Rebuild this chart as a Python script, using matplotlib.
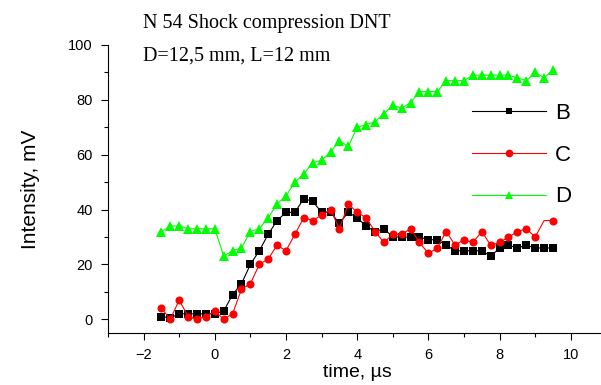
import matplotlib
matplotlib.use('Agg')
import matplotlib.pyplot as plt
from matplotlib.ticker import MultipleLocator
import numpy as np

# time axis, microseconds
time_us = [-1.5, -1.25, -1.0, -0.75, -0.5, -0.25, 0.0, 0.25, 0.5, 0.75,
           1.0, 1.25, 1.5, 1.75, 2.0, 2.25, 2.5, 2.75, 3.0, 3.25,
           3.5, 3.75, 4.0, 4.25, 4.5, 4.75, 5.0, 5.25, 5.5, 5.75,
           6.0, 6.25, 6.5, 6.75, 7.0, 7.25, 7.5, 7.75, 8.0, 8.25,
           8.5, 8.75, 9.0, 9.25, 9.5]

# signals, mV
sig_B = [1, 0.5, 2, 2, 2, 2, 2, 3, 9, 13,
         20, 25, 31, 36, 39, 39, 44, 43, 39, 39,
         35, 39, 37, 34, 32, 33, 30, 30, 30, 30,
         29, 29, 27, 25, 25, 25, 25, 23, 26, 27,
         26, 27, 26, 26, 26]
sig_C = [4, 0, 7, 1, 0, 1, 3, 0, 2, 11,
         13, 20, 22, 27, 25, 31, 37, 36, 38, 40,
         33, 42, 39, 37, 32, 28, 31, 31, 33, 28,
         24, 26, 32, 27, 29, 28, 32, 27, 28, 30,
         32, 33, 30, 36, 36]
sig_D = [32, 34, 34, 33, 33, 33, 33, 23, 25, 26,
         32, 33, 37, 42, 45, 50, 53, 57, 58, 61,
         65, 63, 70, 71, 72, 75, 78, 77, 79, 83,
         83, 83, 87, 87, 87, 89, 89, 89, 89, 89,
         88, 87, 90, 88, 91]

labels = ['B', 'C', 'D']
title1 = 'N 54 Shock compression DNT'
title2 = 'D=12,5 mm, L=12 mm'

plt.rcParams['font.family'] = ['Liberation Sans', 'DejaVu Sans']

W, H = 601, 385
fig = plt.figure(figsize=(W / 100, H / 100), dpi=100)
# axes box in pixels: left 108, bottom 333, top 45; x from -3 to 11
ax = fig.add_axes([108 / W, (H - 333) / H, 498.4 / W, 288 / H])

mk_c = [i for i in range(len(time_us)) if i != 43]
ax.plot(time_us, sig_B, color='black', lw=0.8, marker='s', ms=5.2,
        mew=0, label=labels[0])
ax.plot(time_us, sig_C, color='red', lw=0.8, marker='o', ms=5.8,
        mew=0, markevery=mk_c, label=labels[1])
ax.plot(time_us, sig_D, color='#00ff00', lw=0.8, marker='^', ms=6.5,
        mew=0, label=labels[2])

ax.set_xlim(-3, 11)
ax.set_ylim(-5, 100)
ax.xaxis.set_major_locator(MultipleLocator(2))
ax.xaxis.set_minor_locator(MultipleLocator(1))
ax.yaxis.set_major_locator(MultipleLocator(20))
ax.yaxis.set_minor_locator(MultipleLocator(10))
ax.tick_params(which='major', direction='out', length=5, width=0.8,
               labelsize=10.5, pad=6)
ax.tick_params(which='minor', direction='out', length=3, width=0.8)
ax.set_xticks([-2, 0, 2, 4, 6, 8, 10])
for s in ['top', 'right']:
    ax.spines[s].set_visible(False)
for s in ['left', 'bottom']:
    ax.spines[s].set_linewidth(0.8)

ax.set_xlabel('time, µs', fontsize=14, labelpad=1)
ax.set_ylabel('Intensity, mV', fontsize=15, labelpad=20)

leg = ax.legend(loc='upper left', bbox_to_anchor=(472 / W, (H - 103) / H),
                bbox_transform=fig.transFigure, frameon=False,
                fontsize=16, handlelength=3.33, handletextpad=0.4,
                labelspacing=0.93, borderpad=0, borderaxespad=0,
                markerscale=0.95)

fig.text(143 / W, (H - 28) / H, title1, family=['Liberation Serif', 'DejaVu Serif'],
         fontsize=14.5, va='baseline', ha='left')
fig.text(143 / W, (H - 61) / H, title2, family=['Liberation Serif', 'DejaVu Serif'],
         fontsize=14.5, va='baseline', ha='left')

fig.savefig('out.png', dpi=100)
